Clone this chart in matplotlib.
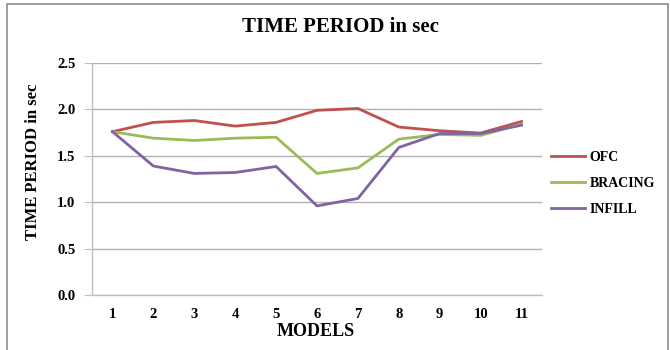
import matplotlib
matplotlib.use('Agg')
from matplotlib import pyplot as plt
from matplotlib.patches import Rectangle

models = ['1', '2', '3', '4', '5', '6', '7', '8', '9', '10', '11']
ofc = [1.76, 1.86, 1.88, 1.82, 1.86, 1.99, 2.01, 1.81, 1.77, 1.745, 1.87]
bracing = [1.76, 1.69, 1.665, 1.69, 1.70, 1.31, 1.37, 1.68, 1.73, 1.72, 1.84]
infill = [1.76, 1.39, 1.31, 1.32, 1.385, 0.96, 1.04, 1.59, 1.74, 1.74, 1.83]

plt.rcParams['font.family'] = 'Liberation Serif'
plt.rcParams['font.weight'] = 'bold'

fig = plt.figure(figsize=(6.7, 3.5), dpi=100)
ax = fig.add_axes([92/670, 55/350, 450/670, 232/350])

# outer frame like the original chart area
fig.patches.append(Rectangle((7/670, -0.05), 661/670, 1.04 - 4/350 + 0.01,
                             transform=fig.transFigure, fill=False,
                             edgecolor='#8c8c8c', linewidth=1.2))

xs = list(range(len(models)))
ax.plot(xs, ofc, color='#c0504d', linewidth=2, label='OFC')
ax.plot(xs, bracing, color='#9bbb59', linewidth=2, label='BRACING')
ax.plot(xs, infill, color='#8064a2', linewidth=2, label='INFILL')

ax.set_xlim(-0.5, len(models) - 0.5)
ax.set_ylim(0, 2.5)
ax.set_xticks(xs)
ax.set_xticklabels(models)
ax.set_yticks([0, 0.5, 1.0, 1.5, 2.0, 2.5])
ax.set_yticklabels(['{:.1f}'.format(v) for v in [0, 0.5, 1.0, 1.5, 2.0, 2.5]])
ax.yaxis.grid(True, color='#b0b0b0', linewidth=1)
ax.set_axisbelow(True)

for s in ['top', 'right']:
    ax.spines[s].set_visible(False)
for s in ['left', 'bottom']:
    ax.spines[s].set_color('#c0c0c0')
    ax.spines[s].set_linewidth(1)
ax.tick_params(axis='y', length=6, color='#c0c0c0', labelsize=10.5, pad=6)
ax.tick_params(axis='x', length=0, labelsize=10.5, pad=9)

fig.text(340/670, 1 - 27/350, 'TIME PERIOD in sec', ha='center', va='center',
         fontsize=15, fontweight='bold')
fig.text(33/670, 1 - 162/350, 'TIME PERIOD in sec', rotation=90,
         ha='center', va='center', fontsize=12, fontweight='bold')
fig.text(316/670, 1 - 331/350, 'MODELS', ha='center', va='center',
         fontsize=13, fontweight='bold')

fig.legend(loc='upper left', bbox_to_anchor=(538/670, 1 - 138/350),
           frameon=False, fontsize=10, handlelength=2.5,
           handletextpad=0.3, labelspacing=0.95)

plt.savefig('out.png', dpi=100)
